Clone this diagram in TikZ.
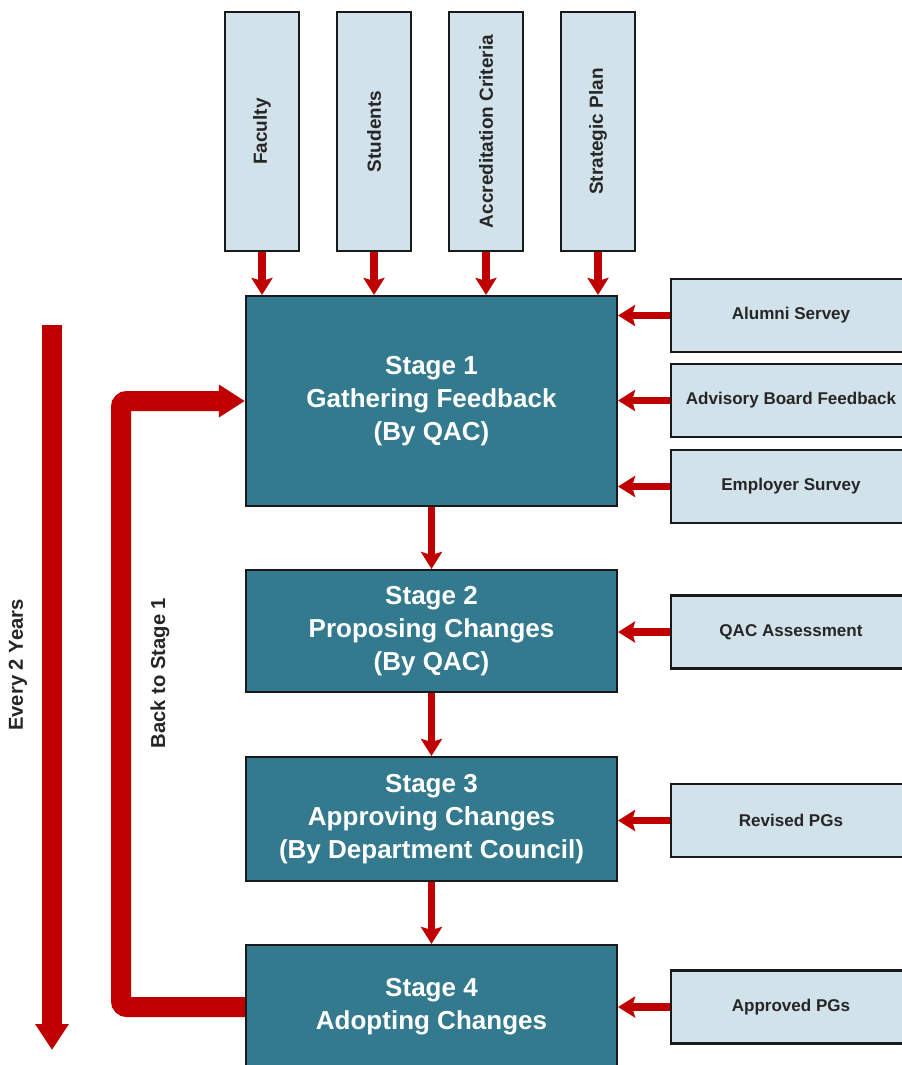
\documentclass[tikz,border=0pt]{standalone}
\usepackage{fontspec}
\setmainfont{Liberation Sans}
\usetikzlibrary{arrows.meta,positioning,calc}
\definecolor{stageTeal}{HTML}{347A8E}
\definecolor{inputBlue}{HTML}{D2E2EA}
\definecolor{flowRed}{HTML}{C00000}
\definecolor{edgeDark}{HTML}{1A1A1A}
\definecolor{textDark}{HTML}{262626}
\tikzset{
  stagebox/.style={draw=edgeDark, line width=1.2pt, fill=stageTeal, text=white,
    font=\fontsize{14.8}{18.8}\selectfont\bfseries, align=center,
    minimum width=7.42cm, inner sep=0pt},
  inbox/.style={draw=edgeDark, line width=1.2pt, fill=inputBlue, text=textDark,
    font=\fontsize{9.7}{11}\selectfont\bfseries, minimum width=4.8cm, minimum height=1.46cm},
  topbox/.style={inbox, font=\fontsize{10.8}{12}\selectfont\bfseries,
    minimum width=1.48cm, minimum height=4.78cm},
  feed/.style={flowRed, line width=4.5pt, -{Stealth[length=3.4mm, width=4.2mm, inset=0.6mm]}},
  sidelabel/.style={text=textDark, font=\fontsize{11.5}{13}\selectfont\bfseries, rotate=90}
}

\begin{document}
\begin{tikzpicture}
  \useasboundingbox (0,0) rectangle (18.04,-21.3);
  % stages
  \node[stagebox, minimum height=4.2cm] (s1) at (8.63,-8.02) {Stage 1\\Gathering Feedback\\(By QAC)};
  \node[stagebox, minimum height=2.44cm] (s2) at (8.63,-12.62) {Stage 2\\Proposing Changes\\(By QAC)};
  \node[stagebox, minimum height=2.48cm] (s3) at (8.63,-16.38) {Stage 3\\Approving Changes\\(By Department Council)};
  \node[stagebox, minimum height=2.48cm] (s4) at (8.63,-20.14) {Stage 4\\Adopting Changes};
  \draw[feed] (s1) -- (s2);
  \draw[feed] (s2) -- (s3);
  \draw[feed] (s3) -- (s4);

  % inputs on top
  \foreach \nm/\txt [count=\i] in {fac/Faculty, stu/Students, acc/Accreditation Criteria, plan/Strategic Plan} {
     \node[topbox] (\nm) at ({5.24+2.24*(\i-1)},-2.63) {\rotatebox{90}{\txt}};
     \draw[feed] (\nm.south) -- (\nm.south |- s1.north);
  }

  % inputs on the right
  \foreach \nm/\txt/\y/\st in {alum/Alumni Servey/-6.31/s1, adv/Advisory Board Feedback/-8.01/s1,
      emp/Employer Survey/-9.73/s1, qac/QAC Assessment/-12.64/s2,
      rev/Revised PGs/-16.41/s3, appr/Approved PGs/-20.14/s4} {
     \node[inbox] (\nm) at (15.82,\y) {\txt};
     \draw[feed] (\nm.west) -- (\nm.west -| \st.east);
  }

  % loop back and cycle
  \coordinate (back) at (2.42,-8.02);
  \draw[flowRed, line width=0.4cm, rounded corners=0.12cm, -{Triangle[length=0.52cm, width=0.62cm]}]
     (s4.west) -| (back) -- (s1.west);
  \coordinate (cycletop) at (1.04,-6.5);
  \coordinate (cyclebot) at (1.04,-21.0);
  \draw[flowRed, line width=0.4cm, -{Triangle[length=0.52cm, width=0.64cm]}] (cycletop) -- (cyclebot);
  \node[sidelabel] (every) at (0.36,-13.3) {Every 2 Years};
  \node[sidelabel] (backlbl) at (3.2,-13.46) {Back to Stage 1};
\end{tikzpicture}
\end{document}
